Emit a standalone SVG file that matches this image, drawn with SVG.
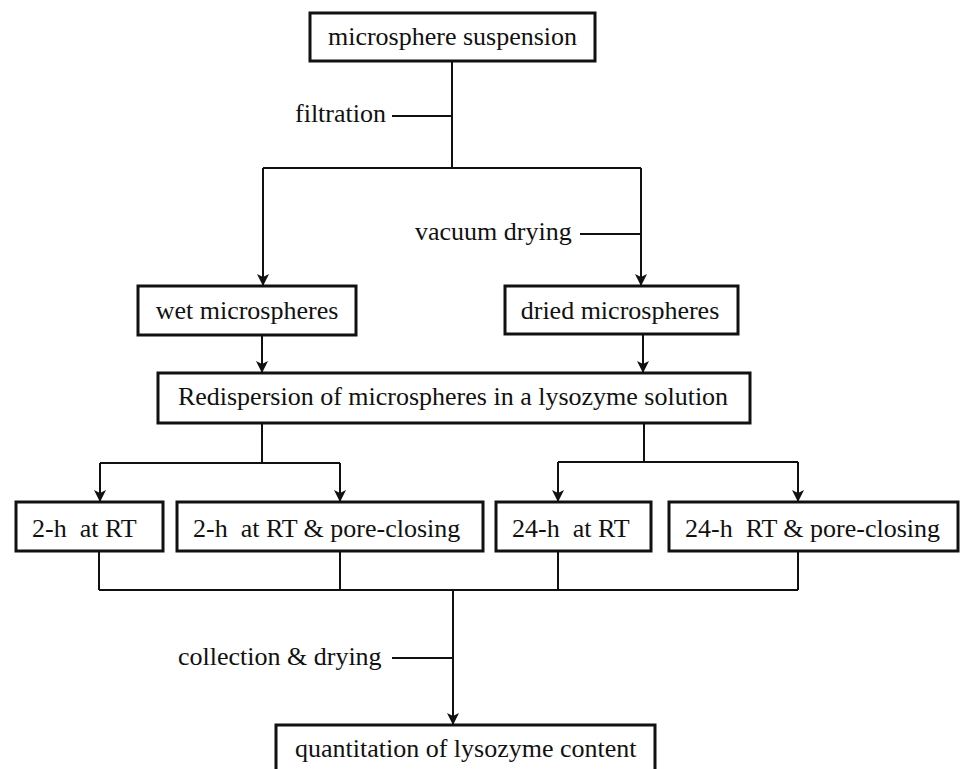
<svg xmlns="http://www.w3.org/2000/svg" width="961" height="769" viewBox="0 0 961 769">
<defs>
<style>
.box{fill:#fff;stroke:#111;stroke-width:3}
.t{font-family:"Liberation Serif","Times New Roman","DejaVu Serif",serif;font-size:26px;fill:#111;white-space:pre}
.ln{fill:none;stroke:#111;stroke-width:2}
</style>
<marker id="ah" viewBox="0 0 12 12" refX="12" refY="6" markerWidth="12" markerHeight="12" markerUnits="userSpaceOnUse" orient="auto">
<path d="M0,0 L12,6 L0,12 L3,6 z" fill="#111"/>
</marker>
</defs>
<rect width="961" height="769" fill="#fff"/>
<g id="connectors">
<path class="ln" d="M452,61 V168"/>
<path class="ln" d="M392,116 H452"/>
<path class="ln" d="M263,168 H641"/>
<path class="ln" d="M263,168 V286" marker-end="url(#ah)"/>
<path class="ln" d="M641,168 V286" marker-end="url(#ah)"/>
<path class="ln" d="M580,234 H641"/>
<path class="ln" d="M262,335 V373" marker-end="url(#ah)"/>
<path class="ln" d="M643,334 V373" marker-end="url(#ah)"/>
<path class="ln" d="M262,423 V463"/>
<path class="ln" d="M100,463 H340"/>
<path class="ln" d="M100,463 V502" marker-end="url(#ah)"/>
<path class="ln" d="M340,463 V502" marker-end="url(#ah)"/>
<path class="ln" d="M644,423 V462"/>
<path class="ln" d="M558,462 H798"/>
<path class="ln" d="M558,462 V502" marker-end="url(#ah)"/>
<path class="ln" d="M798,462 V502" marker-end="url(#ah)"/>
<path class="ln" d="M99,551 V590 M340,551 V590 M558,551 V590 M798,551 V590"/>
<path class="ln" d="M99,590 H798"/>
<path class="ln" d="M453,590 V725" marker-end="url(#ah)"/>
<path class="ln" d="M392,658 H453"/>
</g>
<g id="labels">
<text class="t" x="295" y="122">filtration</text>
<text class="t" x="415" y="240">vacuum drying</text>
<text class="t" x="178" y="665">collection &amp; drying</text>
</g>
<g id="n-suspension">
<rect class="box" x="310" y="13" width="285" height="48"/>
<text class="t" x="452.5" y="45" text-anchor="middle">microsphere suspension</text>
</g>
<g id="n-wet">
<rect class="box" x="138" y="286" width="218" height="49"/>
<text class="t" x="247" y="319" text-anchor="middle">wet microspheres</text>
</g>
<g id="n-dried">
<rect class="box" x="505" y="286" width="233" height="48"/>
<text class="t" x="620" y="319" text-anchor="middle">dried microspheres</text>
</g>
<g id="n-redispersion">
<rect class="box" x="158" y="373" width="592" height="50"/>
<text class="t" x="453" y="405" text-anchor="middle">Redispersion of microspheres in a lysozyme solution</text>
</g>
<g id="n-2h">
<rect class="box" x="16" y="502" width="147" height="49"/>
<text class="t" x="32" y="537">2-h  at RT</text>
</g>
<g id="n-2h-pc">
<rect class="box" x="177" y="502" width="306" height="49"/>
<text class="t" x="193" y="537">2-h  at RT &amp; pore-closing</text>
</g>
<g id="n-24h">
<rect class="box" x="496" y="502" width="155" height="49"/>
<text class="t" x="512" y="537">24-h  at RT</text>
</g>
<g id="n-24h-pc">
<rect class="box" x="669" y="502" width="289" height="49"/>
<text class="t" x="685" y="537">24-h  RT &amp; pore-closing</text>
</g>
<g id="n-quant">
<rect class="box" x="276" y="725" width="379" height="60"/>
<text class="t" x="295" y="757">quantitation of lysozyme content</text>
</g>
</svg>
